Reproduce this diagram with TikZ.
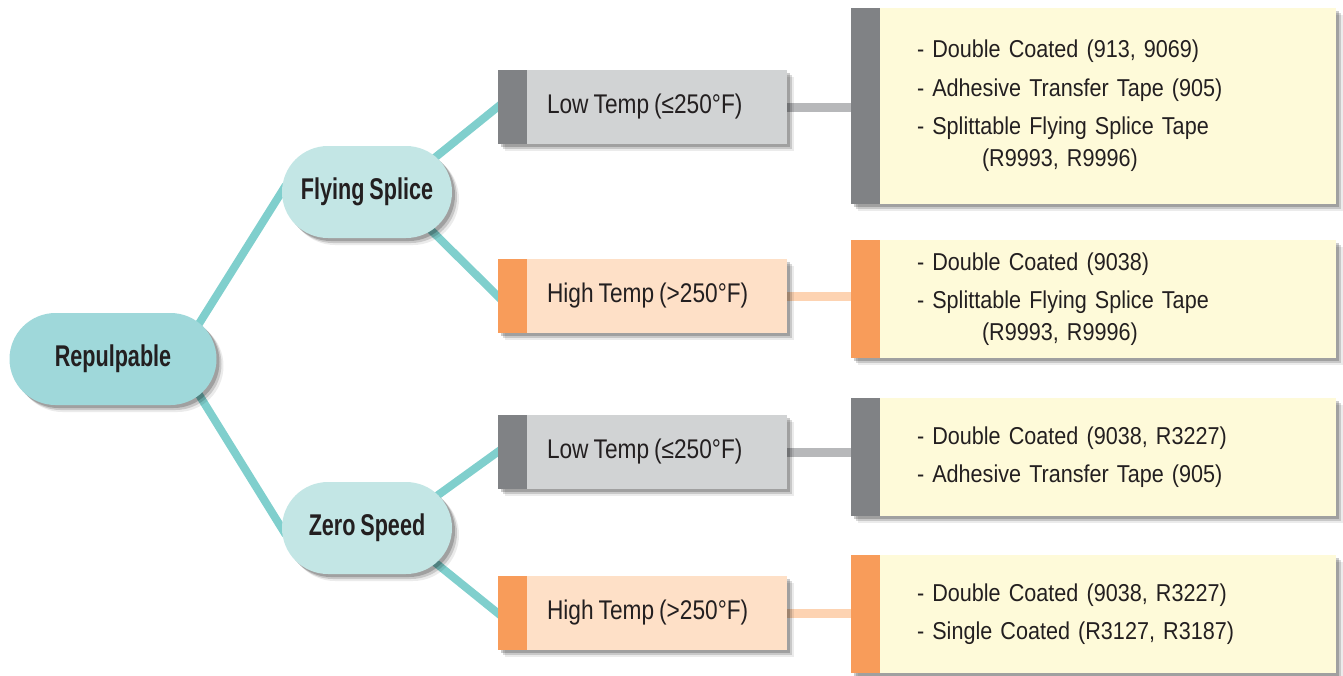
\documentclass[tikz,border=0pt]{standalone}
\usepackage{fontspec}
\setmainfont{Liberation Sans}[FakeStretch=0.84,WordSpace=0.8,BoldFeatures={FakeStretch=0.72}]
\newfontfamily\tapefont{Liberation Sans}[FakeStretch=0.885,WordSpace=0.7]
\usetikzlibrary{positioning,shadows,backgrounds}
\definecolor{ink}{HTML}{231F20}
\definecolor{tealline}{HTML}{80CFCD}
\definecolor{tealdark}{HTML}{9FD8DA}
\definecolor{teallight}{HTML}{C3E6E5}
\definecolor{lowstrip}{HTML}{808285}
\definecolor{lowfill}{HTML}{D1D3D4}
\definecolor{lowbar}{HTML}{B7B8BA}
\definecolor{highstrip}{HTML}{F89C5A}
\definecolor{highfill}{HTML}{FEE0C7}
\definecolor{highbar}{HTML}{FDD3B2}
\definecolor{yfill}{HTML}{FEFAD9}

\begin{document}
\begin{tikzpicture}[x=0.5pt,y=-0.5pt]
\tikzset{
  shade3/.style={drop shadow={shadow xshift=3.5pt,shadow yshift=-3.5pt,fill=black,opacity=.08},
                 drop shadow={shadow xshift=2.5pt,shadow yshift=-2.5pt,fill=black,opacity=.15},
                 drop shadow={shadow xshift=1.5pt,shadow yshift=-1.5pt,fill=black,opacity=.2}},
  pill/.style={shade3,rectangle,rounded corners=23pt,minimum height=46pt,inner sep=0pt,
               text=ink,font=\fontsize{15}{18}\selectfont\bfseries},
  strip/.style={path picture={\fill[#1] (path picture bounding box.north west)
               rectangle ([xshift=14.5pt]path picture bounding box.south west);}},
  tbox/.style={shade3,rectangle,minimum width=144.5pt,minimum height=37pt,inner sep=0pt},
  lowbox/.style={tbox,fill=lowfill,strip=lowstrip},
  highbox/.style={tbox,fill=highfill,strip=highstrip},
  tlabel/.style={font=\fontsize{13.5}{16}\selectfont,text=ink,inner sep=0pt},
  ybox/.style={shade3,rectangle,fill=yfill,strip=#1,inner xsep=33pt,inner ysep=0pt,
               text width=176.5pt,align=left,text=ink,font=\tapefont\fontsize{12.2}{16}\selectfont},
  link/.style={draw=tealline,line width=4pt,shorten >=-4pt},
  bar/.style={line width=4.5pt,draw=#1,
              preaction={draw=black,opacity=.18,transform canvas={shift={(1pt,-2pt)}}}}
}
\useasboundingbox (0,0) rectangle (1343,675);

% tree
\node[pill,fill=tealdark,minimum width=103.5pt] (rep) at (113,359) {Repulpable};
\node[pill,fill=teallight,minimum width=85pt] (fs) at (367,192) {Flying Splice};
\node[pill,fill=teallight,minimum width=85pt] (zs) at (367,528) {Zero Speed};

\node[lowbox] (lt1) at (642.5,107) {};
\node[highbox] (ht1) at (642.5,296) {};
\node[lowbox] (lt2) at (642.5,452) {};
\node[highbox] (ht2) at (642.5,613) {};
\node[tlabel,right=24.5pt of lt1.west] (lt1txt) {Low Temp (≤250°F)};
\node[tlabel,right=24.5pt of ht1.west] (ht1txt) {High Temp (>250°F)};
\node[tlabel,right=24.5pt of lt2.west] (lt2txt) {Low Temp (≤250°F)};
\node[tlabel,right=24.5pt of ht2.west] (ht2txt) {High Temp (>250°F)};

% tapes
\node[ybox=lowstrip,minimum height=98pt] (yb1) at (1093.5,106)
  {- Double Coated (913, 9069)\\[3.25pt]
   - Adhesive Transfer Tape (905)\\[3.25pt]
   - Splittable Flying Splice Tape\\
   \hspace*{32.5pt}(R9993, R9996)};
\node[ybox=highstrip,minimum height=59pt] (yb2) at (1093.5,299)
  {- Double Coated (9038)\\[3.25pt]
   - Splittable Flying Splice Tape\\
   \hspace*{32.5pt}(R9993, R9996)};
\node[ybox=lowstrip,minimum height=59pt] (yb3) at (1093.5,457)
  {- Double Coated (9038, R3227)\\[3.25pt]
   - Adhesive Transfer Tape (905)};
\node[ybox=highstrip,minimum height=59pt] (yb4) at (1093.5,614)
  {- Double Coated (9038, R3227)\\[3.25pt]
   - Single Coated (R3127, R3187)};

\begin{scope}[on background layer]
\draw[link] ([xshift=-20pt]rep.east) -- (fs.west);
\draw[link] ([xshift=-20pt]rep.east) -- (zs.west);
\draw[link] ([xshift=-30pt]fs.east) -- (lt1.west);
\draw[link] ([xshift=-30pt]fs.east) -- (ht1.west);
\draw[link] ([xshift=-30pt]zs.east) -- (lt2.west);
\draw[link] ([xshift=-30pt]zs.east) -- (ht2.west);
\draw[bar=lowbar] (lt1.east) -- (lt1.east -| yb1.west);
\draw[bar=highbar] (ht1.east) -- (ht1.east -| yb2.west);
\draw[bar=lowbar] (lt2.east) -- (lt2.east -| yb3.west);
\draw[bar=highbar] (ht2.east) -- (ht2.east -| yb4.west);
\end{scope}
\end{tikzpicture}
\end{document}
